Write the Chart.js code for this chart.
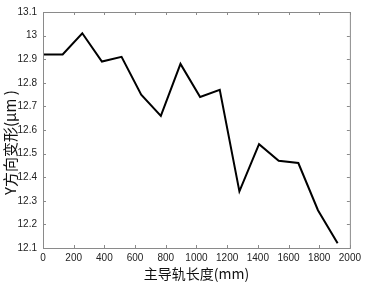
<!DOCTYPE html>
<html>
<head>
<meta charset="utf-8">
<script src="https://cdn.jsdelivr.net/npm/chart.js@4.4.1/dist/chart.umd.min.js"></script>
<style>
  html, body { margin: 0; padding: 0; background: #fff; }
  #wrap { width: 365px; height: 283px; }
</style>
</head>
<body>
<div id="wrap"><canvas id="lineChart" width="365" height="283"></canvas></div>
<script>
// rail length (mm) and Y-direction deformation (um)
const railLength = [0, 128, 256, 384, 512, 640, 768, 896, 1024, 1152, 1280, 1408, 1536, 1664, 1792, 1920];
const yDeform = [12.92, 12.92, 13.01, 12.89, 12.91, 12.75, 12.66, 12.88, 12.74, 12.77, 12.34, 12.54, 12.47, 12.46, 12.26, 12.12];
const xTicks = [0, 200, 400, 600, 800, 1000, 1200, 1400, 1600, 1800, 2000];
const yTicks = [12.1, 12.2, 12.3, 12.4, 12.5, 12.6, 12.7, 12.8, 12.9, 13, 13.1];

const boxGrey = "#8a8a8a";
const tickFont = { family: "'Liberation Sans', Arial, sans-serif", size: 10 };
const titleFont = { family: "'Noto Sans CJK SC', 'Liberation Sans', sans-serif", size: 14 };
const yTitleFont = { family: "'Noto Sans CJK SC', 'Liberation Sans', sans-serif", size: 15 };

// frame round the plot with inward ticks on all four sides
const boxTicks = {
    id: "boxTicks",
    afterDraw(chart) {
        const ctx = chart.ctx, a = chart.chartArea;
        const xs = chart.scales.x, ys = chart.scales.y;
        ctx.save();
        ctx.strokeStyle = boxGrey;
        ctx.lineWidth = 1;
        ctx.strokeRect(a.left + 0.5, a.top + 0.5, a.right - a.left, a.bottom - a.top);
        ctx.beginPath();
        xTicks.forEach(v => {
            const px = Math.round(xs.getPixelForValue(v)) + 0.5;
            ctx.moveTo(px, a.bottom); ctx.lineTo(px, a.bottom - 3);
            ctx.moveTo(px, a.top); ctx.lineTo(px, a.top + 3);
        });
        yTicks.forEach(v => {
            const py = Math.round(ys.getPixelForValue(v)) + 0.5;
            ctx.moveTo(a.left, py); ctx.lineTo(a.left + 3, py);
            ctx.moveTo(a.right, py); ctx.lineTo(a.right - 3, py);
        });
        ctx.stroke();
        ctx.restore();
    }
};

const data = {
    datasets: [{
        label: "Y",
        data: railLength.map((x, i) => ({ x: x, y: yDeform[i] })),
        borderColor: "#000",
        borderWidth: 2,
        pointRadius: 0,
        tension: 0,
        fill: false
    }]
};

new Chart(document.getElementById("lineChart"), {
    type: "line",
    data: data,
    options: {
        responsive: false,
        animation: false,
        devicePixelRatio: 1,
        layout: { padding: { top: 4, right: 11, left: 0, bottom: 0 } },
        plugins: { legend: { display: false }, tooltip: { enabled: false } },
        scales: {
            x: {
                type: "linear",
                min: 0, max: 2000,
                afterBuildTicks: s => { s.ticks = xTicks.map(v => ({ value: v })); },
                afterFit: s => { s.height = 35; },
                grid: { display: false, drawTicks: false },
                border: { display: false },
                ticks: { color: "#222", font: tickFont, padding: 4, maxRotation: 0, callback: v => String(v) },
                title: { display: true, text: "主导轨长度(mm)", color: "#111", font: titleFont, padding: { top: 0, bottom: 1 } }
            },
            y: {
                min: 12.1, max: 13.1,
                afterBuildTicks: s => { s.ticks = yTicks.map(v => ({ value: v })); },
                afterFit: s => { s.width = 43; },
                grid: { display: false, drawTicks: false },
                border: { display: false },
                ticks: { color: "#222", font: tickFont, padding: 6, callback: v => String(Math.round(v * 10) / 10) },
                // trailing spaces push the visible text a little below centre, as in the original
                title: { display: true, text: "Y方向变形(μm )\u3000   ", color: "#111", font: yTitleFont, padding: { top: 1, bottom: 0 } }
            }
        }
    },
    plugins: [boxTicks]
});
</script>
</body>
</html>
